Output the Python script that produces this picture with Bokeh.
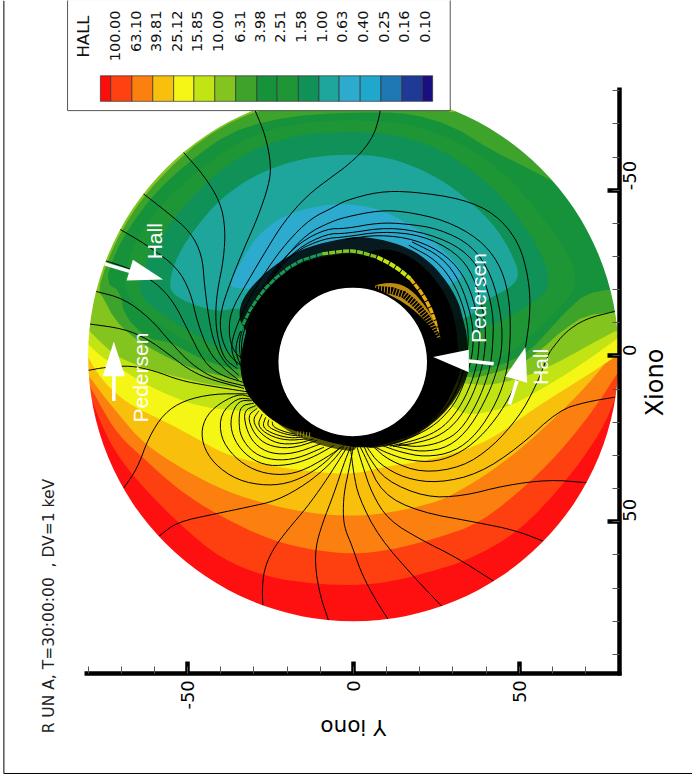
from math import pi
from bokeh.plotting import figure
from bokeh.models import Range1d, SingleIntervalTicker
from bokeh.core.properties import value
from bokeh.embed import file_html
from bokeh.resources import INLINE

# ---- legend -------------------------------------------------------------
legend_title = "HALL"
legend_levels = ["100.00","63.10","39.81","25.12","15.85","10.00","6.31","3.98",
                 "2.51","1.58","1.00","0.63","0.40","0.25","0.16","0.10"]
legend_label_x = [-72,-65.7,-59.5,-53.3,-47.1,-40.9,-34.3,-28.2,-22,-15.7,-9.5,-3.3,3,9.2,15.4,21.7]
legend_edges = [-76.3,-73.2,-66.8,-60.5,-54.2,-48.1,-41.8,-35.5,-29.1,-23,-16.6,-10.4,-4.3,2.05,8.3,14.6,20.8,23.9]
legend_colors = ["#FF0D0D","#FF4010","#FB8010","#F8BF0C","#F6F616","#C2E314","#84C41F","#3EA32A",
                 "#16933A","#1F9636","#0F9157","#1EA69C","#2CABCE","#1FA8CC","#1E78B4","#1F3A96","#1A0F80"]

# ---- filled contour boundaries (Yiono, Xiono) ----------------------------
band_01 = [(-79.8,10.9),(-77.3,17.4),(-73.3,26.5),(-66.7,36),(-53.2,50.1),(-40.1,61.1),(-26,66.7),(-11.9,68.7),
           (0,69.2),(10.7,68.2),(22.7,65.2),(34.3,61.7),(49.9,53.1),(64.4,37.5),(75,22.5),(79.5,11.4)]
band_02 = [(-79.8,8.4),(-76.3,14.9),(-71.2,23.5),(-63.7,30.5),(-53.2,40),(-41.6,47.6),(-25,55.6),(-11.9,58.6),
           (0,59.8),(10.7,58.6),(24.7,55.1),(38.3,50.4),(53.4,38),(64,27),(73,15.4),(79.5,5.4)]
band_03 = [(-80.3,5.4),(-75.8,11.4),(-70.2,18.4),(-63.2,26.5),(-50.1,35),(-38,41),(-25,45),(-11.9,47.6),
           (0,48.3),(8.7,47.6),(19.2,45.6),(27.8,43.1),(39.8,36),(49.9,28.5),(60.4,19),(71,8.4),(79,-1.7)]
band_04 = [(-80.3,-0.15),(-76.8,5.9),(-71.7,11.4),(-65.2,15.9),(-58.2,19),(-46.1,25.5),(-39.1,29.5),(-26,33),(-11.9,35),
           (0,35.7),(8.7,33.5),(19.7,32),(31.8,29),(41.8,25),(50.9,18.4),(59.9,12.4),(68,7.4),(75,2.9),(79.5,-0.2)]
band_05 = [(-80.1,-3.7),(-75.3,0.85),(-69.2,4.4),(-62.2,8.9),(-52.1,13.4),(-44.1,15.6),(-36,16.4),(-28,17),(-20,0),
           (20,0),(28,14),(33.8,17.9),(40.8,16.9),(47.8,14.9),(55.9,10.4),(66,4.4),(74,-1.2),(79.5,-5.2)]
band_06 = [(-80.3,-8.2),(-76.3,-4.2),(-71.2,0.35),(-62.2,3.9),(-52.1,6.6),(-42.1,8.9),(-33,9.5),(-28,8),(-15,0),
           (15,0),(30,8),(34.8,8.4),(41.8,8.9),(52.9,5.9),(62,1.8),(70,-2.7),(79,-7.5)]
band_07 = [(78.8,-13.3),(70,-12.3),(63,-7.7),(56.9,-2.2),(49.9,2.9),(41.8,5.4),(34.8,6.9),(25,3),(10,-5),(-15,-5),(-28,5),
           (-33,7),(-43.1,5.4),(-52.1,2.4),(-60.2,-1.7),(-67.2,-6.2),(-72.2,-11.3),(-75.3,-17.3),(-77,-19.8),(-74.3,-28.3),
           (-70,-37.7),(-63.2,-48.4),(-51.1,-61),(-40.1,-69),(-29,-74),(-18,-76.6),(7.7,-77.1),(17.7,-76.6),(25.7,-75),(30.8,-73),
           (45,-80),(90,-50),(90,-13)]
band_08 = [(78.5,-20.3),(70,-18.8),(64,-13.3),(58.9,-7.7),(53.9,-2.2),(47.8,1.4),(40.8,3.9),(33.8,5.4),(25,0),(10,-8),(-15,-8),(-28,2),
           (-33,4.5),(-42.1,2.4),(-49.1,-0.7),(-55.2,-4.2),(-62.2,-5.2),(-69.2,-12.3),(-70.2,-19.3),(-74.8,-22.3),(-71.7,-31.4),
           (-67.2,-39.4),(-59.7,-49.4),(-49.1,-59),(-38,-67),(-26,-71),(-11.9,-73),(7.7,-73.6),(17.7,-73),(29.8,-69.5),(41.8,-62),
           (53.9,-56),(64.4,-50.4),(75,-55),(95,-30),(95,-20)]
band_09 = [(7.7,-71),(18.7,-69.5),(30.8,-65),(41.8,-58),(50.9,-49.4),(58.9,-39.4),(65,-30.3),(67.4,-23.3),(65,-17.3),(58.9,-11.2),
           (52.9,-5.2),(45.8,-0.2),(39.8,2.4),(33.3,3.9),(25,-3),(10,-10),(-15,-10),(-28,-2),(-33,2),(-42.1,0.35),(-48.1,-3.2),
           (-54.2,-6.7),(-61.2,-11.2),(-66.7,-16.3),(-69.2,-21.3),(-68.2,-28.3),(-63.7,-38.4),(-56.2,-47.4),(-46.1,-56.5),(-35,-64.5),
           (-23,-69),(-10,-71)]
band_10 = [(7.7,-67.5),(17.7,-65.5),(27.8,-61.5),(37.8,-54.5),(45.8,-46.9),(52.9,-37.4),(57.9,-28.3),(59.4,-21.3),(55.9,-17.3),
           (47.8,-12.3),(39.8,-8.7),(34.8,-4.7),(25,-5),(10,-12),(-15,-12),(-28,-6),(-35,0),(-40.1,-2.2),(-48.1,-6.7),(-56.2,-11.7),
           (-62.7,-16.3),(-64.7,-20.3),(-62.7,-28.3),(-57.2,-37.4),(-50.1,-46.4),(-42.1,-54.5),(-32,-61.5),(-20,-66),(-10,-67.5)]
band_11 = [(7.7,-60.5),(17.7,-57.5),(27.8,-52.5),(37.8,-44.4),(44.8,-36.4),(49.4,-27.3),(49.7,-23.3),(46.8,-20.3),(41.8,-17.8),
           (37.8,-15.3),(34.8,-11.3),(25,-10),(10,-15),(-15,-15),(-30,-12),(-35,-14.8),(-40.1,-13.3),(-48.1,-15.3),(-54.2,-18.3),
           (-55.7,-21.8),(-53.2,-30.3),(-47.1,-39.4),(-40.1,-47.4),(-30,-54.5),(-18,-59),(-5.9,-60.8)]
band_12 = [(7.7,-44.4),(17.7,-39.4),(25.7,-33.4),(32.8,-25.8),(33,-23.8),(28.8,-21.3),(20,-15),(0,-20),(-20,-20),(-30,-20.3),
           (-35,-20.3),(-37.6,-21.3),(-33,-30.3),(-28,-37.4),(-20,-42.9),(-10,-45.4),(-2,-46)]

# ---- streamlines ----------------------------------------------------------
line_a = [(8.6,-76.6),(7.65,-71.5),(6.1,-66.5),(2.6,-61.5),(-2.4,-57),(-5.9,-54.5),(-14,-48.4),(-21,-40.4),(-26,-32.4),(-32,-22.3),
          (-37.1,-13.3),(-37.6,-6.2),(-36,-1.2),(-33,1.3)]
line_b = [(-29.8,-74.4),(-26.5,-66.5),(-24.8,-57.5),(-25.5,-51.5),(-29,-41.4),(-33,-32.4),(-37.1,-22.3),(-40.1,-13.3),(-40.1,-6.2),
          (-37.6,-0.2),(-34,2.8)]
line_c = [(-51.6,-61.8),(-45.1,-54.5),(-40.1,-46.4),(-38.6,-38.4),(-39.1,-29.3),(-41.1,-19.3),(-41.6,-12.3),(-41.1,-6.2),(-39.1,0.8),(-35,3.8)]
line_d = [(-63.7,-49.2),(-56.2,-43.4),(-49.1,-37.4),(-45.6,-30.3),(-44.9,-21.3),(-43.6,-11.25),(-42.1,-4.2),(-39.1,1.8),(-34.6,5.8)]
line_e = [(-70.7,-38.4),(-62.2,-33.4),(-53.2,-26.8),(-49.1,-19.3),(-47.1,-10.2),(-43.6,-1.2),(-39.1,3.8),(-34.6,7.3)]
line_f = [(-75,-28.8),(-67.2,-26.3),(-59.7,-22.3),(-54.2,-16.3),(-50.1,-8.2),(-45.1,1.8),(-40.1,5.8),(-33,8)]
line_g = [(-78.1,-19.6),(-69.2,-17.3),(-61.2,-11.25),(-55.2,-4.2),(-49.1,2.3),(-42.1,6.8),(-33,9)]
line_h = [(-79.8,-9.7),(-69.2,-8.2),(-62.2,-5.2),(-55.2,-0.2),(-50.1,3.8),(-44.1,6.8),(-33,9.8)]
line_i = [(-80.3,4.4),(-74.8,3.4),(-67.2,2.9),(-60.2,4.4),(-52.15,7.4),(-44.1,8.9),(-32,10.8)]
line_j = [(-69.4,40),(-65.2,34),(-61.7,24.5),(-57.2,17.4),(-51.1,13.4),(-42.1,11.4),(-32,11.4)]
line_k = [(-58.7,54.4),(-53.2,50.1),(-41.6,47.6),(-32,45.6),(-23,43.6),(-14,38.5),(-6.9,32.5),(-2.9,27.5)]
curl_1 = [(-31,12.3),(-35,11.4),(-42.1,15.4),(-45.6,20.4),(-45.6,26.5),(-42.1,32.5),(-35,37.5),(-26,39.2),(-18,38),(-9.9,33.5),(-3.9,27.5)]
curl_2 = [(-31,13),(-35,12.6),(-40.1,17.4),(-40.1,24.5),(-36,30.5),(-30,34.5),(-23,36),(-16,35),(-7.9,30.5),(-2.9,27)]
curl_3 = [(-30.5,13.5),(-34.6,13.4),(-37.1,18.4),(-36.6,24),(-33,29.5),(-27,33),(-20,33),(-13,31),(-5.9,27)]
curl_4 = [(-30,14.2),(-34,15),(-34.6,19.4),(-34,24.5),(-30,29.5),(-24,31.5),(-17,31),(-8.9,27.5)]
curl_5 = [(-29.5,15),(-33,16.4),(-32.5,21.5),(-30,26.5),(-25,29.5),(-18,29.5),(-9.9,26.5)]
curl_6 = [(-29,15.8),(-32,18),(-30,23.5),(-26,27),(-19,28),(-11,25.5)]
curl_7 = [(-28.5,16.5),(-30.5,19.4),(-28,23.5),(-23,26.5),(-17,26.5),(-12,25)]
curl_8 = [(-27.5,17.5),(-29,21),(-25.5,24),(-20,25.5),(-14,25)]
curl_9 = [(-26.5,18.5),(-27.5,21.5),(-24,23.6),(-19,24.8),(-15,24.4)]
curl_10 = [(-25.5,19.2),(-26,21.2),(-22.5,23),(-18.5,24),(-15.5,24)]
curl_11 = [(-24.5,19.8),(-24.2,21.4),(-21,22.8),(-17.5,23.6)]
arc_1 = [(-35,2.8),(-37.1,-2.2),(-35.6,-8.2),(-32,-16.3),(-26,-26.3),(-20,-34.4),(-13,-41.4),(-5.9,-44.9),(-2.4,-46.9),(7.65,-49.6),
         (17.7,-49.6),(32.8,-47.4),(42.8,-42.9),(49.9,-34.4),(52.9,-23.3),(53.4,-13.3),(51.9,-2.2),(50.4,5.4),(45.8,14.9),(39.8,23),
         (32.8,29),(24.7,32),(16.7,31.5),(10.7,29.5),(6.6,27.5)]
arc_2 = [(-34,2.8),(-35.6,-1.2),(-35,-5.2),(-32,-12.3),(-27,-20.3),(-21,-29.3),(-14,-36.9),(-6.9,-40.4),(-2.4,-41.9),(7.65,-43.9),
         (15.7,-43.6),(27.75,-40.9),(37.8,-35.4),(43.8,-28.3),(46.8,-19.3),(47.5,-7.2),(46.5,4.4),(43.3,13.9),(37.3,23.5),(30.3,29),
         (21.7,30.5),(14.2,29),(8.7,27)]
arc_3 = [(-34,0.8),(-34.6,-4.2),(-32.5,-11.25),(-29,-18.3),(-23,-27.3),(-16,-34.4),(-8,-38.4),(-2.4,-38.4),(7.65,-40.2),(15.7,-39.9),
         (25.7,-38.4),(35.8,-33.4),(41.8,-24.3),(44.8,-11.25),(44.8,-1.7),(43.3,4.4),(40.8,11.4),(35.3,21.5),(28.8,27.5),(20.7,29),
         (13.7,27.5),(9.7,26.5)]
arc_4 = [(-33,1.3),(-34,-2.2),(-33,-8.2),(-29.5,-16.3),(-24.5,-24.3),(-17,-32.4),(-8,-36.9),(-2.4,-36.9),(10.7,-38.9),(22.7,-36.9),
         (32.8,-32.4),(38.8,-25.3),(42.3,-13.3),(42,-1.7),(40.8,5.4),(37.3,14.4),(32.3,22.5),(26.7,26),(19.7,27.5),(13.7,26.7)]
arc_5 = [(-33,-1.2),(-32.5,-6.2),(-30,-14.3),(-25,-23.3),(-18,-31.35),(-9,-35.4),(-2.4,-35.9),(8.7,-37.6),(20.7,-36.4),(30.8,-31.35),
         (36.3,-24.3),(39.8,-11.25),(39.8,-1.7),(38.3,5.4),(35.3,13.4),(30.8,20.4),(25.2,24.5),(18.7,26.3),(12,27.3)]
arc_6 = [(-2.4,-35.2),(7.65,-36.6),(18.7,-35.2),(28.3,-30.3),(34.3,-22.8),(37.8,-11.25),(38,-1.7),(36.3,6.4),(32.8,14.4),(28.3,20.4),
         (23.7,23.5),(18,25.6),(11,27.2)]
arc_7 = [(17.7,-34.4),(26.7,-29.9),(32.3,-22.3),(35.8,-11.25),(36.3,-3.2),(34.8,4.4),(31.3,13.4),(26.7,18.9),(22.7,22),(17,24.8),(10,26.9)]
arc_8 = [(16.7,-33.4),(25.2,-28.8),(30.8,-21.3),(34.3,-11.25),(34.8,-3.2),(32.8,6.4),(29.8,13.4),(25.7,17.9),(21.5,21.8),(15,25)]
arc_9 = [(33.8,3),(31.5,9.5),(28.5,15),(24,19.5),(18,23.5),(13,25.3)]
ray_1 = [(-27.3,75.5),(-27.5,70.7),(-27,64.7),(-24.5,58.6),(-20,52.6),(-14,45.6),(-8.9,38.5),(-4.4,31.5),(-1.9,27.5)]
ray_2 = [(-7.4,80),(-9.9,72.7),(-11.4,64.7),(-11.4,57.6),(-9.4,50.6),(-5.9,41.6),(-2.9,32.5),(-0.9,27.5)]
ray_3 = [(10.5,79.5),(5.6,71.7),(2.1,64.7),(-0.5,57),(-2.4,52.6),(-3.1,48.6),(-2.9,41.6),(-1.4,34.5),(0,27.5)]
ray_4 = [(26.7,75.5),(19.2,67.7),(7.65,54.6),(1.6,42.6),(0.1,35.5),(-0.9,27.5)]
ray_5 = [(42.3,67.9),(30.8,60.6),(20.7,55.6),(10.7,49.6),(5.6,41.6),(2.6,32.5),(1.1,27.5)]
ray_6 = [(57.4,55.9),(48.9,52.6),(37.8,50.3),(19.7,47),(8.65,41.5),(3.6,30.5),(2.1,27.5)]
ray_7 = [(70.5,38.2),(58.9,37.3),(45.8,39),(32.8,42.3),(21.7,42.6),(9.65,37.5),(4.6,30.5),(3.1,27)]
ray_8 = [(79,12.4),(70,13.9),(61.9,16.4),(49.9,27.5),(37.8,35.5),(25.7,38.3),(15.7,37),(7.65,32.5),(4.1,27.5)]
ray_9 = [(79,-13.5),(70,-11.25),(63.9,-7.2),(59.9,-2.2),(58.9,-0.7),(54.9,9.4),(49.9,18.4),(41.8,27.5),(32.8,33.5),(20.7,35.3),(10.7,31.5),(5.6,27)]
streamlines = [line_a,line_b,line_c,line_d,line_e,line_f,line_g,line_h,line_i,line_j,line_k,
               curl_1,curl_2,curl_3,curl_4,curl_5,curl_6,curl_7,curl_8,curl_9,curl_10,curl_11,
               arc_1,arc_2,arc_3,arc_4,arc_5,arc_6,arc_7,arc_8,arc_9,
               ray_1,ray_2,ray_3,ray_4,ray_5,ray_6,ray_7,ray_8,ray_9]

# ---- saturated ring of lines round the hole -------------------------------
ring_edge = [(-34,3.8),(-33,9),(-31,13),(-24,20),(-14,23.8),(-6,26.2),(2.1,27.7),(9.2,26.7),(16.2,24.2),(22.2,20.6),(27.3,15.6),
             (30.3,9.4),(32.3,4.4),(31.3,-3.2),(30.8,-9.2),(28.8,-16.2),(25.3,-22.3),(20.2,-27.8),(14.2,-31.3),(8.2,-32.3),(2.1,-30.3),
             (-1.4,-30.8),(-9.4,-29.8),(-17.5,-27.3),(-25.5,-20.8),(-30.5,-13.7),(-32.5,-6.2),(-33.8,-0.15)]
dense_upper = [(-34,-9),(-34.5,-14.2),(-32.5,-18.8),(-27.5,-24.3),(-22.5,-28.3),(-16.5,-31.8),(-9.4,-34.1),(-2.4,-35.5),(2.1,-36.1),
               (10.2,-34.8),(17.2,-32.3),(23.2,-28.3),(28.3,-22.3),(31.8,-16.2),(33.3,-10.2),(34.3,-6.2),(34.8,4.4),(32.3,10.4),
               (28.3,16.4),(23.2,21),(17.2,25),(10.2,27.3),(2.1,28),(0,20),(0,0),(-25,0)]
dense_lower = [(-33,7),(-30,11),(-26.5,17),(-21,22),(-14,25.5),(-6,28),(2,29),(0,20),(-20,5)]
stripe_green = [(-34,-7.5),(-33.5,-9.2),(-30.5,-15.2),(-25.5,-21.8),(-17.5,-28.3),(-9.4,-30.8)]
stripe_lime = [(-9.4,-30.8),(-1.4,-31.8),(2.1,-31.3),(7.2,-29.8)]
stripe_yellow = [(7.2,-29.8),(12.2,-27.3),(17.2,-23.3)]
stripe_gold = [(17.2,-23.3),(21.2,-18.2),(24.2,-12.2),(25.8,-5.2)]
hatch_patch = [(5.2,-21.3),(12.2,-22.3),(17.2,-20.3),(21.7,-15.2),(24.7,-10.2),(25.8,-4.7),(23.7,-8.2),(20.2,-12.2),(15.2,-16.2),(9.2,-19.25)]
hatch_mid = [(5,-20.3),(14,-19.5),(19,-15.5),(23,-10.5),(25.5,-5)]
hatch_low = [(-17,23.5),(-12.5,24)]

# ---- arrows and annotations ----------------------------------------------
arrow_stems = [[(-75,-27.8),(-66.7,-25.3)],[(-72.25,6),(-72.25,13.6)],[(34.8,1.5),(42.3,2.35)],[(49.35,7.4),(47.05,14.6)]]
arrow_heads = [[(-66.5,-29),(-68.4,-22.8),(-57.4,-23.1)],[(-72.25,-4.4),(-75.6,6.1),(-68.9,6.1)],
               [(24.05,0.3),(34.8,-1.9),(34.8,4.9)],[(51.9,-2.7),(45.8,6.2),(52.4,8.1)]]
note_text = ["Hall","Pedersen","Pedersen","Hall"]
note_x = [-60,37.7,-64.2,56.4]
note_y = [-34.6,-17.5,6.5,3.3]
run_title = "R UN A, T=30:00:00 \u00a0, DV=1 keV"
x_label = "Xiono"
y_label = "Y iono"
tick_labels = {-50: "-50", 0: "0", 50: "50"}

DEJAVU = value("DejaVu Sans")
LIB = value("Liberation Sans")


def smooth(pts, closed=False, rounds=2):
    for _ in range(rounds):
        out = [] if closed else [pts[0]]
        n = len(pts)
        last = n if closed else n - 1
        for i in range(last):
            a, b = pts[i], pts[(i + 1) % n]
            out.append((0.75*a[0]+0.25*b[0], 0.75*a[1]+0.25*b[1]))
            out.append((0.25*a[0]+0.75*b[0], 0.25*a[1]+0.75*b[1]))
        if not closed:
            out.append(pts[-1])
        pts = out
    return [p_[0] for p_ in pts], [p_[1] for p_ in pts]


p = figure(width=692, height=780, output_backend="svg", toolbar_location=None,
           x_range=Range1d(-106.42, 102.26), y_range=Range1d(128.02, -107.21),
           x_axis_location="below", y_axis_location="right",
           min_border=0, outline_line_color=None,
           background_fill_color="white", border_fill_color="white")
p.grid.visible = False

# filled contours
p.circle(x=[0], y=[0], radius=80.4, fill_color="#FE1010", line_color=None)
open_bands = [(band_01,"#FE4010"),(band_02,"#FB8010"),(band_03,"#F8BF0C"),(band_04,"#F6F616"),(band_05,"#C2E314"),(band_06,"#84C41F")]
for pts, col in open_bands:
    xs, ys = smooth(pts)
    xs = xs + [xs[-1]+12, 100, -100, xs[0]-12]
    ys = ys + [ys[-1], -100, -100, ys[0]]
    p.patch(xs, ys, fill_color=col, line_color=None)
for pts, col in [(band_07,"#3EA32A"),(band_08,"#16933A")]:
    xs, ys = smooth(pts, closed=True, rounds=1)
    p.patch(xs, ys, fill_color=col, line_color=None)
for pts, col in [(band_09,"#1F9636"),(band_10,"#0F9157"),(band_11,"#1EA69C"),(band_12,"#2CABCE")]:
    xs, ys = smooth(pts, closed=True)
    p.patch(xs, ys, fill_color=col, line_color=None)

# streamlines
for pts in streamlines:
    xs, ys = smooth(pts)
    p.line(xs, ys, line_color="black", line_width=1)

# saturated ring
for pts, a in [(dense_upper, 0.85), (dense_lower, 0.65)]:
    xs, ys = smooth(pts, closed=True)
    p.patch(xs, ys, fill_color="black", fill_alpha=a, line_color=None)
xs, ys = smooth(ring_edge, closed=True)
p.patch(xs, ys, fill_color="black", line_color="black", line_width=1)
for pts, col, w in [(stripe_green,"#1A9A50",3),(stripe_lime,"#84C41F",3.5),(stripe_yellow,"#C2E314",4),(stripe_gold,"#E6B010",3.5)]:
    xs, ys = smooth(pts, rounds=1)
    p.line(xs, ys, line_color=col, line_width=w, line_dash="6 1")
xs, ys = smooth(hatch_patch, closed=True)
p.patch(xs, ys, fill_color="#C08C10", line_color=None)
xs, ys = smooth(hatch_mid, rounds=1)
p.line(xs, ys, line_color="black", line_width=7, line_dash="2 1")
p.line([s[0] for s in hatch_low], [s[1] for s in hatch_low], line_color="#8A8A10", line_width=6, line_dash="1 2")

# mask outside the disc and hole
p.annulus(x=[0], y=[0], inner_radius=80, outer_radius=170, fill_color="white", line_color=None)
p.circle(x=[-0.2], y=[1.8], radius=22.4, fill_color="white", line_color=None)

# page frame
p.line([-105.4, -105.4, 102.26], [-107.2, 125.9, 125.9], line_color="black", line_width=1)

# arrows
for stem in arrow_stems:
    p.line([s[0] for s in stem], [s[1] for s in stem], line_color="white", line_width=3.5)
for head in arrow_heads:
    p.patch([s[0] for s in head], [s[1] for s in head], fill_color="white", line_color=None)
p.text(x=note_x, y=note_y, text=note_text, angle=pi/2, text_color="white", text_font=LIB,
       text_font_size="21px", text_align="center", text_baseline="middle")

# legend box
p.quad(left=[-86.2], right=[29.2], top=[-107.5], bottom=[-74], fill_color="white", line_color="#555555", line_width=1)
p.quad(left=legend_edges[:-1], right=legend_edges[1:], top=[-84.5]*17, bottom=[-76.8]*17,
       fill_color=legend_colors, line_color="#333333", line_alpha=0.7, line_width=1)
p.text(x=legend_label_x, y=[-104.2]*16, text=legend_levels, angle=pi/2, text_color="#111111", text_font=DEJAVU,
       text_font_size="14.5px", text_align="right", text_baseline="middle")
p.text(x=[-81.4], y=[-90], text=[legend_title], angle=pi/2, text_color="#111111", text_font=DEJAVU,
       text_font_size="16.5px", text_align="left", text_baseline="middle")

# page texts
p.text(x=[-91.9], y=[113.8], text=[run_title], angle=pi/2, text_color="#222222", text_font=DEJAVU,
       text_font_size="15.5px", text_align="left", text_baseline="middle")
p.text(x=[91.1], y=[8], text=[x_label], angle=pi/2, text_color="black", text_font=DEJAVU,
       text_font_size="24px", text_align="center", text_baseline="middle")
p.text(x=[0], y=[112], text=[y_label], angle=pi, text_color="black", text_font=DEJAVU,
       text_font_size="21.5px", text_align="center", text_baseline="middle")

# axes
for ax, loc, bnds, standoff in [(p.xaxis, 95.66, (-81.1, 80.9), 7), (p.yaxis, 80.2, (-81, 96.3), 10)]:
    ax.fixed_location = loc
    ax.bounds = bnds
    ax.ticker = SingleIntervalTicker(interval=50, num_minor_ticks=5)
    ax.axis_line_color = "black"
    ax.axis_line_width = 4.5
    ax.major_tick_in = 12
    ax.major_tick_out = 0
    ax.major_tick_line_color = "black"
    ax.major_tick_line_width = 4.5
    ax.minor_tick_in = 7
    ax.minor_tick_out = 0
    ax.minor_tick_line_color = "#555555"
    ax.minor_tick_line_width = 1
    ax.major_label_orientation = pi/2
    ax.major_label_standoff = standoff
    ax.major_label_text_font = "DejaVu Sans"
    ax.major_label_text_font_size = "18px"
    ax.major_label_text_color = "black"
    ax.major_label_overrides = tick_labels

open("out.html", "w").write(file_html(p, INLINE))
